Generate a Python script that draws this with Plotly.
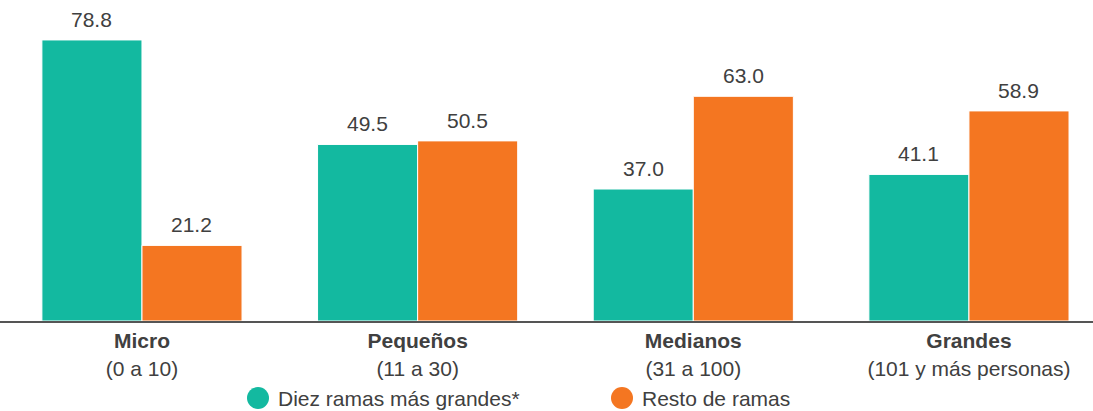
import plotly.graph_objects as go

categories = ["Micro", "Pequeños", "Medianos", "Grandes"]
ranges = ["(0 a 10)", "(11 a 30)", "(31 a 100)", "(101 y más personas)"]
series_names = ["Diez ramas más grandes*", "Resto de ramas"]
diez = [78.8, 49.5, 37.0, 41.1]
resto = [21.2, 50.5, 63.0, 58.9]
colors = ["#13B9A0", "#F47621"]

W, H = 1093, 411
ML, MR, MT, MB = 0, 0, 0, 90
plot_h = H - MT - MB

ticktext = [f"<b>{c}</b><br>{r}" for c, r in zip(categories, ranges)]
font = dict(family="Liberation Sans, Arial, sans-serif", size=21, color="#404040")

fig = go.Figure()
offsets = [-50, 50]
for k, (name, vals, col) in enumerate(zip(series_names, [diez, resto], colors)):
    fig.add_trace(go.Bar(
        x=categories, y=vals, name=name,
        marker=dict(color=col, line=dict(color="white", width=1)),
        showlegend=False, hoverinfo="x+y",
    ))
    for c, v in zip(categories, vals):
        fig.add_annotation(x=c, y=v, xref="x", yref="y", text=f"{v:.1f}",
                           showarrow=False, xshift=offsets[k], yshift=7,
                           yanchor="bottom", font=font)

# custom legend (circles + labels)
legend_px = [258, 622]
for i, (name, col) in enumerate(zip(series_names, colors)):
    cx = legend_px[i] / W
    cy = (plot_h - 398) / plot_h
    fig.add_shape(type="circle", xref="paper", yref="paper",
                  xsizemode="pixel", ysizemode="pixel",
                  xanchor=cx, yanchor=cy, x0=-11, x1=11, y0=-11, y1=11,
                  fillcolor=col, line=dict(width=0))
    fig.add_annotation(xref="paper", yref="paper", x=(legend_px[i] + 18) / W, y=cy,
                       xanchor="left", yanchor="middle", text=name,
                       showarrow=False, font=font)

fig.update_layout(
    width=W, height=H,
    margin=dict(l=ML, r=MR, t=MT, b=MB),
    paper_bgcolor="white", plot_bgcolor="white",
    barmode="group", bargap=0.274, bargroupgap=0,
    showlegend=False,
    font=font,
    xaxis=dict(range=[-0.515, 3.45], tickmode="array", tickvals=categories,
               ticktext=ticktext, showline=True, linecolor="#555555", linewidth=2,
               ticks="", showgrid=False, tickfont=font),
    yaxis=dict(range=[0, 90], visible=False, showgrid=False),
)

fig.write_html("out.html", config={"displayModeBar": False},
               post_script="document.body.style.margin='0';document.body.style.overflow='hidden';")
